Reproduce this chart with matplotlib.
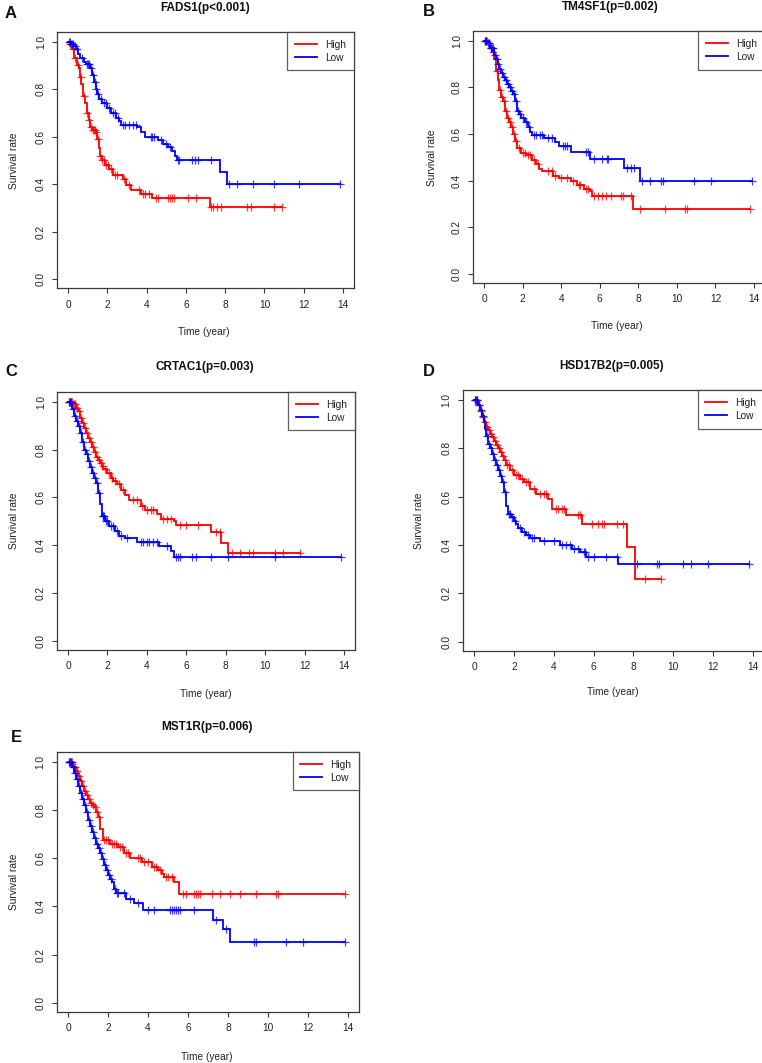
import numpy as np
import matplotlib
matplotlib.use("Agg")
import matplotlib.pyplot as plt
from matplotlib.lines import Line2D

plt.rcParams['font.family'] = ['Liberation Sans', 'DejaVu Sans']

# ---------------- data ----------------
titles = ["FADS1(p<0.001)", "TM4SF1(p=0.002)", "CRTAC1(p=0.003)", "HSD17B2(p=0.005)", "MST1R(p=0.006)"]
letters = ["A", "B", "C", "D", "E"]
group_labels = ["High", "Low"]
x_ticks = [0, 2, 4, 6, 8, 10, 12, 14]
y_ticks = [0.0, 0.2, 0.4, 0.6, 0.8, 1.0]

# Panel A
A_high_t = [0.1,0.2,0.3,0.45,0.55,0.62,0.66,0.75,0.85,0.95,1.05,1.1,1.2,1.4,1.5,1.58,1.65,1.72,1.9,2.1,2.3,2.8,2.95,3.2,3.7,4.3,7.25]
A_high_s = [0.99,0.97,0.93,0.90,0.89,0.85,0.82,0.77,0.74,0.70,0.67,0.64,0.63,0.62,0.59,0.55,0.52,0.50,0.48,0.465,0.44,0.42,0.395,0.375,0.36,0.342,0.305]
A_high_c = [0.1,0.15,0.25,0.35,0.5,0.65,0.8,0.95,1.05,1.15,1.25,1.3,1.35,1.45,1.55,1.65,1.75,1.85,1.95,2.05,2.2,2.4,2.5,2.85,3.1,3.6,3.8,3.9,4.1,4.5,4.6,5.1,5.2,5.3,5.4,6.1,6.5,7.3,7.4,7.6,7.8,9.1,9.3,10.5,10.9]
A_low_t = [0.15,0.3,0.4,0.5,0.6,0.8,0.9,1.1,1.2,1.3,1.4,1.5,1.6,1.75,2.0,2.2,2.45,2.6,2.7,3.5,3.7,3.9,4.6,4.85,5.1,5.3,5.45,5.55,7.75,8.1]
A_low_s = [0.99,0.98,0.97,0.95,0.93,0.915,0.905,0.89,0.86,0.83,0.80,0.78,0.76,0.74,0.72,0.70,0.68,0.665,0.65,0.64,0.62,0.60,0.585,0.57,0.555,0.54,0.52,0.50,0.45,0.40]
A_low_c = [0.05,0.1,0.2,0.25,0.35,0.45,0.7,0.95,1.0,1.05,1.15,1.25,1.35,1.45,1.55,1.7,1.85,1.95,2.1,2.3,2.4,2.55,2.8,2.9,3.1,3.3,3.45,4.2,4.3,4.4,4.75,5.0,5.2,5.6,5.65,6.3,6.45,6.6,7.3,8.2,8.6,9.4,10.5,11.75,13.85]

# Panel B
B_high_t = [0.2,0.3,0.4,0.5,0.6,0.7,0.8,0.9,1.0,1.1,1.2,1.3,1.4,1.5,1.6,1.7,1.9,2.2,2.5,2.7,2.85,3.0,3.6,3.9,4.5,4.8,5.2,5.5,5.6,7.75]
B_high_s = [0.99,0.97,0.95,0.92,0.87,0.83,0.79,0.76,0.74,0.70,0.67,0.65,0.63,0.60,0.57,0.54,0.52,0.51,0.49,0.47,0.45,0.44,0.42,0.41,0.40,0.38,0.365,0.355,0.335,0.28]
B_high_c = [0.05,0.1,0.15,0.25,0.35,0.45,0.65,0.85,0.95,1.05,1.15,1.25,1.35,1.45,1.55,1.65,1.8,2.0,2.1,2.3,2.4,2.6,2.8,3.3,3.5,3.7,4.0,4.3,4.6,4.9,5.0,5.3,5.4,5.7,5.9,6.1,6.3,6.6,7.1,7.2,7.6,8.1,9.4,10.4,10.5,13.8]
B_low_t = [0.15,0.3,0.5,0.6,0.7,0.8,0.9,1.0,1.1,1.2,1.3,1.4,1.5,1.6,1.7,1.8,1.9,2.1,2.3,2.4,2.5,3.1,3.7,3.9,4.5,5.5,7.25,8.1]
B_low_s = [0.99,0.97,0.94,0.92,0.90,0.88,0.86,0.845,0.83,0.815,0.80,0.785,0.77,0.74,0.70,0.685,0.67,0.65,0.63,0.61,0.595,0.585,0.565,0.55,0.525,0.495,0.455,0.40]
B_low_c = [0.05,0.1,0.2,0.25,0.35,0.4,0.45,0.55,0.65,0.75,0.85,0.95,1.05,1.15,1.25,1.35,1.45,1.55,1.65,1.75,1.85,2.0,2.2,2.35,2.6,2.7,2.9,3.0,3.3,3.5,4.1,4.2,4.3,5.3,5.4,5.7,6.1,6.4,6.45,7.4,7.6,7.8,8.2,8.6,9.2,9.3,10.9,11.75,13.9]

# Panel C
C_high_t = [0.25,0.4,0.5,0.6,0.7,0.8,0.9,1.0,1.1,1.2,1.3,1.4,1.5,1.6,1.7,1.8,2.0,2.2,2.3,2.5,2.7,2.9,3.1,3.7,3.9,4.5,4.7,5.4,5.5,7.25,7.75,8.1]
C_high_s = [0.99,0.975,0.96,0.93,0.91,0.89,0.87,0.85,0.83,0.81,0.79,0.77,0.755,0.745,0.73,0.72,0.70,0.68,0.67,0.655,0.63,0.61,0.59,0.565,0.545,0.53,0.51,0.50,0.485,0.455,0.41,0.365]
C_high_c = [0.05,0.1,0.15,0.2,0.3,0.35,0.45,0.55,0.65,0.75,0.85,0.95,1.05,1.15,1.25,1.35,1.45,1.55,1.65,1.75,1.9,2.1,2.25,2.4,2.6,2.8,3.3,3.5,3.75,4.0,4.2,4.3,4.8,5.0,5.2,5.7,6.0,6.6,7.5,7.7,8.3,8.7,9.2,9.4,10.5,10.9,11.75]
C_low_t = [0.2,0.3,0.4,0.5,0.6,0.7,0.8,0.9,1.0,1.1,1.2,1.3,1.4,1.5,1.6,1.7,1.9,2.1,2.4,2.6,2.9,3.5,4.6,5.2,5.4]
C_low_s = [0.97,0.94,0.92,0.90,0.87,0.83,0.80,0.78,0.75,0.725,0.70,0.68,0.66,0.62,0.57,0.52,0.50,0.48,0.46,0.44,0.43,0.415,0.395,0.375,0.35]
C_low_c = [0.05,0.1,0.15,0.25,0.35,0.45,0.55,0.65,0.75,0.85,0.95,1.05,1.15,1.25,1.35,1.45,1.55,1.75,1.8,1.85,1.95,2.0,2.2,2.3,2.5,2.7,3.0,3.7,3.8,4.0,4.1,4.3,4.5,5.0,5.5,5.6,5.7,6.3,6.5,7.25,8.1,10.5,13.85]

# Panel D
D_high_t = [0.2,0.3,0.4,0.5,0.6,0.7,0.8,0.9,1.0,1.1,1.2,1.3,1.4,1.5,1.6,1.8,2.0,2.3,2.5,2.8,3.1,3.7,3.9,4.6,5.4,7.7,8.1]
D_high_s = [0.98,0.955,0.93,0.91,0.89,0.875,0.86,0.845,0.83,0.815,0.80,0.785,0.77,0.75,0.73,0.71,0.69,0.675,0.66,0.63,0.61,0.59,0.55,0.525,0.485,0.39,0.26]
D_high_c = [0.05,0.1,0.15,0.25,0.35,0.45,0.55,0.65,0.75,0.85,0.95,1.05,1.15,1.25,1.35,1.45,1.55,1.65,1.75,1.9,2.1,2.2,2.4,2.6,2.7,3.0,3.3,3.5,3.6,4.1,4.2,4.4,4.5,5.2,5.3,5.9,6.2,6.4,6.5,7.2,7.5,8.6,9.4]
D_low_t = [0.2,0.3,0.4,0.5,0.55,0.6,0.7,0.8,0.9,1.0,1.1,1.2,1.3,1.4,1.5,1.6,1.7,1.85,2.0,2.1,2.2,2.4,2.6,2.8,3.3,4.3,4.9,5.3,5.6,7.25]
D_low_s = [0.98,0.96,0.935,0.91,0.88,0.85,0.82,0.80,0.775,0.75,0.73,0.71,0.685,0.66,0.62,0.56,0.53,0.515,0.50,0.485,0.47,0.455,0.44,0.43,0.415,0.40,0.385,0.37,0.35,0.32]
D_low_c = [0.05,0.1,0.15,0.25,0.35,0.45,0.65,0.75,0.85,0.95,1.05,1.15,1.25,1.35,1.45,1.55,1.75,1.8,1.9,2.05,2.3,2.5,2.7,2.9,3.0,3.5,4.0,4.4,4.6,4.8,5.0,5.2,5.5,5.55,5.7,6.0,6.6,7.2,8.2,9.2,9.3,10.5,10.9,11.75,13.8]

# Panel E
E_high_t = [0.25,0.4,0.5,0.6,0.7,0.8,0.9,1.0,1.1,1.2,1.3,1.4,1.5,1.6,1.75,2.1,2.5,2.8,3.1,3.7,4.2,4.5,4.7,4.8,5.3,5.55]
E_high_s = [0.98,0.96,0.94,0.92,0.90,0.88,0.86,0.845,0.83,0.82,0.81,0.79,0.77,0.72,0.675,0.66,0.645,0.62,0.60,0.585,0.565,0.55,0.535,0.52,0.50,0.45]
E_high_c = [0.05,0.1,0.15,0.2,0.3,0.35,0.45,0.55,0.65,0.75,0.85,0.95,1.05,1.15,1.25,1.35,1.45,1.55,1.8,1.9,2.0,2.2,2.3,2.4,2.6,2.7,2.9,3.0,3.5,3.6,3.8,4.0,4.3,4.4,4.6,4.9,5.0,5.2,5.75,5.9,6.3,6.4,6.5,6.6,7.2,7.6,8.1,8.6,9.4,10.4,10.5,13.85]
E_low_t = [0.2,0.3,0.4,0.5,0.6,0.7,0.8,0.9,1.0,1.1,1.2,1.3,1.4,1.5,1.6,1.7,1.8,1.9,2.0,2.1,2.2,2.3,2.4,2.9,3.3,3.75,7.25,7.75,8.1]
E_low_s = [0.98,0.955,0.93,0.90,0.87,0.845,0.82,0.79,0.76,0.735,0.71,0.685,0.66,0.64,0.62,0.595,0.57,0.55,0.53,0.515,0.50,0.47,0.455,0.43,0.415,0.385,0.345,0.305,0.25]
E_low_c = [0.05,0.1,0.15,0.25,0.35,0.45,0.55,0.65,0.75,0.85,0.95,1.05,1.15,1.25,1.35,1.45,1.55,1.65,1.75,1.85,1.95,2.05,2.15,2.35,2.45,2.5,2.8,3.1,3.5,4.0,4.3,5.1,5.2,5.3,5.4,5.5,5.6,6.3,7.4,7.9,9.3,9.4,10.9,11.75,13.85]

panels = [
    ((A_high_t, A_high_s, A_high_c), (A_low_t, A_low_s, A_low_c)),
    ((B_high_t, B_high_s, B_high_c), (B_low_t, B_low_s, B_low_c)),
    ((C_high_t, C_high_s, C_high_c), (C_low_t, C_low_s, C_low_c)),
    ((D_high_t, D_high_s, D_high_c), (D_low_t, D_low_s, D_low_c)),
    ((E_high_t, E_high_s, E_high_c), (E_low_t, E_low_s, E_low_c)),
]

# ---------------- layout (pixel geometry) ----------------
W, H = 762, 1063
# (x at t=0, x at t=14, y at S=1, y at S=0)
geom = [(68, 343, 41.7, 279), (484, 754, 40.7, 274), (68, 344, 401.7, 640.7),
        (474, 753, 400, 641.7), (68, 348, 761.7, 1002.7)]
title_pos = [(205, 7.5), (610, 7), (205, 367), (612, 366), (207, 727)]
xlab_pos = [(204, 332), (617, 326), (206, 694), (613, 692), (207, 1057)]
ylab_x = [14, 432, 14, 419, 14]
letter_pos = [(10.5, 13), (428.5, 12), (11.5, 372), (428.5, 372), (16.5, 738)]

colors = ["#FF0000", "#0000FF"]
txtc = "#222222"
boxc = "#3a3a3a"

fig = plt.figure(figsize=(W / 100, H / 100), dpi=100)


def fx(px):
    return px / W


def fy(py):
    return 1 - py / H


def km_xy(t, s, c):
    end = max(max(t), max(c))
    xs = np.concatenate([[0.0], np.asarray(t, float), [end]])
    ys = np.concatenate([[1.0], np.asarray(s, float), [s[-1]]])
    return xs, ys


def surv_at(t, s, times):
    t = np.asarray(t, float)
    s = np.asarray(s, float)
    out = []
    for x in times:
        idx = np.searchsorted(t, x, side="right") - 1
        out.append(1.0 if idx < 0 else s[idx])
    return np.array(out)


for i, (groups) in enumerate(panels):
    x0, x14, y1, y0 = geom[i]
    dx = x14 - x0
    dy = y0 - y1
    left = x0 - 0.04 * dx
    top = y1 - 0.04 * dy
    ax = fig.add_axes([fx(left), fy(top + 1.08 * dy), 1.08 * dx / W, 1.08 * dy / H])
    ax.set_xlim(-0.56, 14.56)
    ax.set_ylim(-0.04, 1.04)

    handles = []
    for (t, s, c), col, lab in zip(groups, colors, group_labels):
        xs, ys = km_xy(t, s, c)
        ax.step(xs, ys, where="post", color=col, lw=1.3, solid_joinstyle="miter")
        ax.plot(c, surv_at(t, s, c), linestyle="none", marker="+", color=col,
                markersize=5.5, markeredgewidth=0.9, alpha=0.75)
        handles.append(Line2D([0], [0], color=col, lw=1.3))

    ax.set_xticks(x_ticks)
    ax.set_yticks(y_ticks)
    ax.set_xticklabels([str(v) for v in x_ticks])
    ax.set_yticklabels(["%.1f" % v for v in y_ticks])
    ax.tick_params(axis="both", direction="out", length=3.5, width=0.8, color=boxc,
                   labelsize=7.3, labelcolor=txtc)
    ax.tick_params(axis="x", pad=4.5)
    ax.tick_params(axis="y", pad=4.5, labelrotation=90)
    for lbl in ax.get_yticklabels():
        lbl.set_va("center")
    for sp in ax.spines.values():
        sp.set_color(boxc)
        sp.set_linewidth(0.9)

    leg = ax.legend(handles, group_labels, loc="upper right", borderaxespad=0,
                    fontsize=7.3, frameon=True, fancybox=False, handlelength=2.2,
                    handletextpad=0.8, borderpad=0.75, labelspacing=0.3)
    leg.get_frame().set_edgecolor(boxc)
    leg.get_frame().set_linewidth(0.9)
    for tx in leg.get_texts():
        tx.set_color(txtc)

    tx_, ty_ = title_pos[i]
    fig.text(fx(tx_), fy(ty_), titles[i], ha="center", va="center",
             fontsize=8.5, fontweight="bold", color="#111111")
    lx, ly = xlab_pos[i]
    fig.text(fx(lx), fy(ly), "Time (year)", ha="center", va="center", fontsize=7.3, color=txtc)
    fig.text(fx(ylab_x[i]), fy((y1 + y0) / 2), "Survival rate", ha="center", va="center",
             rotation=90, fontsize=7.3, color=txtc)
    px, py = letter_pos[i]
    fig.text(fx(px), fy(py), letters[i], ha="center", va="center", fontsize=12,
             fontweight="bold", color="#111111")

fig.savefig("out.png", dpi=100)
